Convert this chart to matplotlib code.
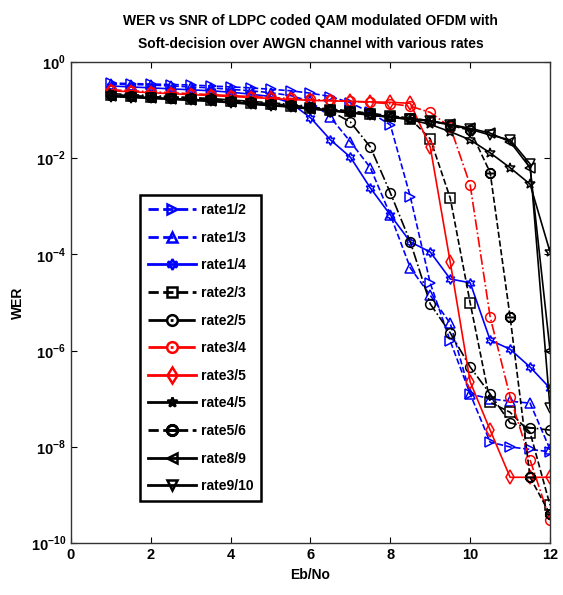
import numpy as np
import matplotlib
matplotlib.use("Agg")
import matplotlib.pyplot as plt

plt.rcParams['font.family'] = ['Liberation Sans', 'DejaVu Sans']
plt.rcParams['font.weight'] = 'bold'
plt.rcParams['mathtext.fontset'] = 'custom'
plt.rcParams['mathtext.rm'] = 'Liberation Sans:bold'
plt.rcParams['mathtext.bf'] = 'Liberation Sans:bold'

# Eb/No points
ebno = [1, 1.5, 2, 2.5, 3, 3.5, 4, 4.5, 5, 5.5, 6, 6.5,
        7, 7.5, 8, 8.5, 9, 9.5, 10, 10.5, 11, 11.5, 12]

# log10(WER)
r1_2 = [-0.44, -0.45, -0.46, -0.47, -0.48, -0.50, -0.52, -0.54, -0.57, -0.60, -0.65, -0.72,
        -0.85, -1.05, -1.31, -2.80, -4.60, -5.80, -6.90, -7.90, -8.00, -8.05, -8.10]
r1_3 = [-0.46, -0.47, -0.48, -0.50, -0.52, -0.54, -0.57, -0.60, -0.64, -0.70, -0.82, -1.15,
        -1.66, -2.20, -3.18, -4.28, -4.85, -5.43, -6.90, -7.00, -7.05, -7.09, -8.05]
r1_4 = [-0.50, -0.52, -0.54, -0.56, -0.58, -0.60, -0.63, -0.67, -0.72, -0.85, -1.16, -1.62,
        -1.98, -2.62, -3.18, -3.74, -3.95, -4.51, -4.59, -5.78, -5.97, -6.34, -6.78]
r2_3 = [-0.69, -0.71, -0.73, -0.75, -0.77, -0.79, -0.82, -0.85, -0.88, -0.91, -0.95, -0.99,
        -1.03, -1.08, -1.12, -1.18, -1.60, -2.83, -5.01, -7.07, -7.28, -7.70, -9.21]
r2_5 = [-0.66, -0.68, -0.70, -0.72, -0.74, -0.76, -0.79, -0.82, -0.85, -0.88, -0.93, -1.02,
        -1.25, -1.77, -2.72, -3.74, -5.03, -5.63, -6.34, -6.90, -7.50, -7.60, -7.65]
r3_4 = [-0.58, -0.60, -0.62, -0.64, -0.66, -0.68, -0.70, -0.72, -0.74, -0.76, -0.78, -0.80,
        -0.82, -0.84, -0.87, -0.92, -1.05, -1.35, -2.56, -5.30, -6.96, -8.27, -9.52]
r3_5 = [-0.60, -0.62, -0.64, -0.66, -0.68, -0.70, -0.72, -0.74, -0.76, -0.78, -0.80, -0.81,
        -0.82, -0.83, -0.84, -0.86, -1.77, -4.16, -6.65, -7.65, -8.63, -8.63, -8.63]
r4_5 = [-0.70, -0.72, -0.74, -0.76, -0.78, -0.80, -0.83, -0.86, -0.89, -0.92, -0.96, -1.00,
        -1.05, -1.10, -1.15, -1.20, -1.30, -1.45, -1.62, -1.89, -2.20, -2.54, -3.95]
r5_6 = [-0.68, -0.70, -0.72, -0.74, -0.76, -0.78, -0.81, -0.84, -0.87, -0.90, -0.94, -0.98,
        -1.02, -1.07, -1.12, -1.17, -1.22, -1.32, -1.42, -2.30, -5.30, -8.63, -9.40]
r8_9 = [-0.71, -0.73, -0.75, -0.77, -0.79, -0.81, -0.84, -0.87, -0.90, -0.93, -0.97, -1.01,
        -1.05, -1.10, -1.14, -1.18, -1.22, -1.30, -1.38, -1.48, -1.66, -2.20, -6.00]
r9_10 = [-0.72, -0.74, -0.76, -0.78, -0.80, -0.82, -0.85, -0.88, -0.91, -0.94, -0.98, -1.02,
         -1.06, -1.11, -1.15, -1.19, -1.23, -1.31, -1.40, -1.52, -1.62, -2.12, -7.20]

series = [
    ("rate1/2", r1_2, "b", "--", ">"),
    ("rate1/3", r1_3, "b", "--", "^"),
    ("rate1/4", r1_4, "b", "-", (6, 1, 0)),
    ("rate2/3", r2_3, "k", "--", "s"),
    ("rate2/5", r2_5, "k", "-.", "o"),
    ("rate3/4", r3_4, "r", "-.", "o"),
    ("rate3/5", r3_5, "r", "-", "d"),
    ("rate4/5", r4_5, "k", "-", "*"),
    ("rate5/6", r5_6, "k", "--", r"$\ominus$"),
    ("rate8/9", r8_9, "k", "-", "<"),
    ("rate9/10", r9_10, "k", "-", "v"),
]

fig = plt.figure(figsize=(5.63, 5.95), dpi=100)
ax = fig.add_axes([0.126, 0.087, 0.851, 0.809])

for name, vals, c, ls, mk in series:
    ax.semilogy(ebno, 10.0 ** np.array(vals), color=c, linestyle=ls, marker=mk,
                markersize=7, markerfacecolor='none', markeredgewidth=1.1,
                linewidth=1.2, label=name)

ax.set_xlim(0, 12)
ax.set_ylim(1e-10, 1)
ax.set_xticks([0, 2, 4, 6, 8, 10, 12])
ax.set_yticks([1e0, 1e-2, 1e-4, 1e-6, 1e-8, 1e-10])
ax.set_yticklabels([r"$10^{0}$", r"$10^{-2}$", r"$10^{-4}$", r"$10^{-6}$",
                    r"$10^{-8}$", r"$10^{-10}$"])
ax.minorticks_off()
ax.tick_params(direction='in', top=True, right=True, labelsize=10.5, length=4)
for s in ax.spines.values():
    s.set_linewidth(1.0)
    s.set_color('#333333')

ax.set_xlabel("Eb/No", fontsize=10, fontweight='bold')
ax.set_ylabel("WER", fontsize=10, fontweight='bold')
ax.set_title("WER vs SNR of LDPC coded QAM modulated OFDM with\n"
             "Soft-decision over AWGN channel with various rates",
             fontsize=10, fontweight='bold', linespacing=1.8, pad=10)

leg = ax.legend(loc='upper left', bbox_to_anchor=(0.13, 0.737), fontsize=10,
                handlelength=3.5, labelspacing=0.98, borderpad=0.55,
                handletextpad=0.3, fancybox=False, framealpha=1,
                edgecolor='black', markerscale=1.1)
leg.get_frame().set_linewidth(1.8)
for h in leg.legend_handles:
    h.set_linewidth(2.0)
    h.set_markeredgewidth(1.8)

fig.savefig("out.png", dpi=100)
